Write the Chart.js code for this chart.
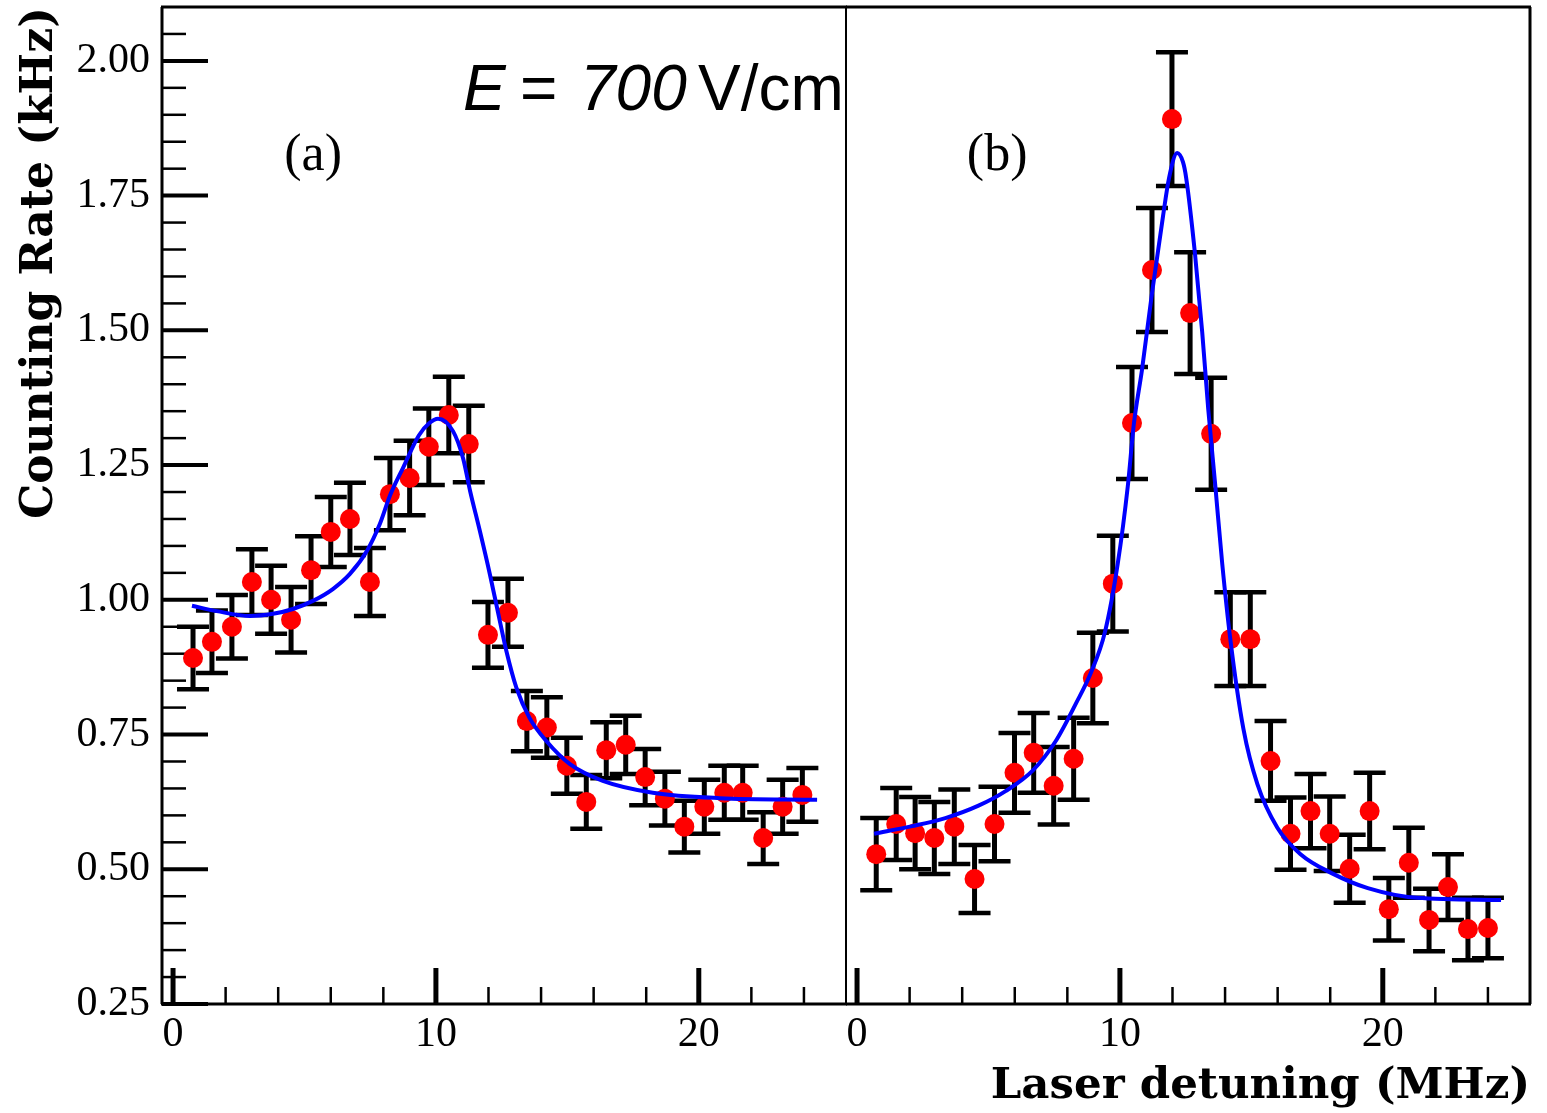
<!DOCTYPE html>
<html>
<head>
<meta charset="utf-8">
<title>Counting rate vs laser detuning</title>
<script src="https://cdn.jsdelivr.net/npm/chart.js@4.4.1/dist/chart.umd.min.js"></script>
<style>
  body { margin: 0; background: #fff; }
  #wrap { position: relative; width: 1547px; height: 1113px; }
  canvas { position: absolute; top: 0; }
</style>
</head>
<body>
<div id="wrap">
  <canvas id="panelA" width="848" height="1113" style="left:0px"></canvas>
  <canvas id="panelB" width="701" height="1113" style="left:846px"></canvas>
</div>
<script>
// axis ranges + ticks
const yMin = 0.25, yMax = 2.10;
const xMin = -0.42, xMax = 25.6;
const yMajorTicks = [0.25, 0.50, 0.75, 1.00, 1.25, 1.50, 1.75, 2.00];
const yMinorTicks = [0.30, 0.35, 0.40, 0.45, 0.55, 0.60, 0.65, 0.70, 0.80, 0.85, 0.90, 0.95,
  1.05, 1.10, 1.15, 1.20, 1.30, 1.35, 1.40, 1.45, 1.55, 1.60, 1.65, 1.70, 1.80, 1.85, 1.90, 1.95, 2.05];
const xMajorTicks = [0, 10, 20];
const xMinorTicks = [2, 4, 6, 8, 12, 14, 16, 18, 22, 24];

// panel (a) measurements
const aX = [0.76, 1.48, 2.24, 3.00, 3.73, 4.49, 5.25, 6.00, 6.73, 7.49, 8.25, 9.00, 9.73, 10.49, 11.25, 11.98,
  12.74, 13.46, 14.22, 14.98, 15.72, 16.48, 17.22, 17.96, 18.71, 19.45, 20.21, 20.97, 21.67, 22.45, 23.19, 23.94];
const aY = [0.892, 0.922, 0.950, 1.033, 1.000, 0.963, 1.055, 1.126, 1.150, 1.033, 1.196, 1.226, 1.284, 1.343, 1.289, 0.935,
  0.976, 0.775, 0.763, 0.692, 0.625, 0.721, 0.731, 0.671, 0.631, 0.579, 0.616, 0.642, 0.642, 0.558, 0.616, 0.638];
const aErr = [0.058, 0.058, 0.059, 0.061, 0.063, 0.061, 0.063, 0.065, 0.067, 0.063, 0.067, 0.069, 0.071, 0.071, 0.071, 0.061,
  0.063, 0.056, 0.056, 0.052, 0.050, 0.052, 0.054, 0.052, 0.050, 0.048, 0.050, 0.050, 0.050, 0.048, 0.050, 0.050];
// fit curve (a)
const aFitX = [0.72, 1.67, 2.93, 3.80, 4.56, 5.32, 6.08, 6.73, 7.38, 7.87, 8.25, 8.75, 9.35, 9.75, 10.08, 10.65, 11.03,
  11.30, 11.67, 12.05, 12.43, 12.68, 13.06, 13.56, 14.20, 15.10, 16.35, 18.25, 20.80, 24.50];
const aFitY = [0.989, 0.979, 0.970, 0.974, 0.983, 0.998, 1.020, 1.048, 1.091, 1.141, 1.193, 1.245, 1.305, 1.328, 1.336, 1.313, 1.263,
  1.202, 1.128, 1.048, 0.961, 0.905, 0.837, 0.781, 0.738, 0.695, 0.664, 0.642, 0.632, 0.629];

// panel (b) measurements
const bX = [0.73, 1.49, 2.21, 2.94, 3.70, 4.47, 5.23, 5.99, 6.72, 7.48, 8.24, 8.97, 9.73, 10.46, 11.22, 11.98,
  12.67, 13.47, 14.20, 14.96, 15.73, 16.49, 17.25, 17.98, 18.74, 19.50, 20.23, 20.99, 21.76, 22.48, 23.24, 24.00];
const bY = [0.528, 0.584, 0.567, 0.558, 0.579, 0.482, 0.584, 0.679, 0.716, 0.655, 0.705, 0.855, 1.030, 1.328, 1.612, 1.892,
  1.532, 1.308, 0.927, 0.927, 0.701, 0.566, 0.608, 0.566, 0.501, 0.608, 0.426, 0.512, 0.406, 0.467, 0.389, 0.391];
const bErr = [0.067, 0.067, 0.067, 0.067, 0.069, 0.063, 0.069, 0.074, 0.074, 0.072, 0.076, 0.084, 0.089, 0.104, 0.115, 0.124,
  0.113, 0.104, 0.087, 0.087, 0.074, 0.067, 0.069, 0.069, 0.063, 0.071, 0.058, 0.065, 0.058, 0.061, 0.058, 0.056];
// fit curve (b)
const bFitX = [0.65, 2.10, 3.36, 4.62, 5.65, 6.68, 7.56, 8.32, 8.90, 9.43, 9.92, 10.30, 10.53, 10.84, 11.22, 11.64, 11.87,
  12.18, 12.40, 12.52, 12.86, 13.13, 13.36, 13.63, 13.89, 14.20, 14.70, 15.23, 15.99, 16.87, 18.13, 19.43, 21.30, 24.50];
const bFitY = [0.566, 0.580, 0.595, 0.618, 0.645, 0.683, 0.738, 0.807, 0.865, 0.940, 1.068, 1.211, 1.326, 1.427, 1.569, 1.712, 1.783,
  1.829, 1.812, 1.783, 1.640, 1.497, 1.354, 1.211, 1.068, 0.927, 0.760, 0.658, 0.577, 0.528, 0.491, 0.465, 0.447, 0.443];

const serif = '"Liberation Serif", "Times New Roman", serif';
const titleFont = '"DejaVu Serif", serif';

function toPoints(xs, ys) {
  return xs.map((x, i) => ({ x: x, y: ys[i] }));
}

function line(ctx, x1, y1, x2, y2, w) {
  ctx.lineWidth = w;
  ctx.beginPath();
  ctx.moveTo(x1, y1);
  ctx.lineTo(x2, y2);
  ctx.stroke();
}

// stop chart.js from adding extra room for the edge labels
function noPadding(s) {
  s.paddingLeft = 0;
  s.paddingRight = 0;
  s.paddingTop = 0;
  s.paddingBottom = 0;
}

// frame, tick marks, error bars and labels for one panel
const decorPlugin = {
  id: 'decor',
  beforeDatasetsDraw(chart, args, opts) {
    const ctx = chart.ctx;
    const a = chart.chartArea;
    const xs = chart.scales.x, ys = chart.scales.y;
    ctx.save();
    ctx.strokeStyle = '#000';
    ctx.lineCap = 'butt';

    // error bars
    opts.errX.forEach((x, i) => {
      const px = xs.getPixelForValue(x);
      const top = ys.getPixelForValue(opts.errY[i] + opts.err[i]);
      const bot = ys.getPixelForValue(opts.errY[i] - opts.err[i]);
      line(ctx, px, top, px, bot, 5);
      line(ctx, px - 16, top, px + 16, top, 4.5);
      line(ctx, px - 16, bot, px + 16, bot, 4.5);
    });

    // x tick marks
    xMajorTicks.forEach(v => {
      const px = xs.getPixelForValue(v);
      line(ctx, px, a.bottom, px, a.bottom - 36, 5);
    });
    xMinorTicks.forEach(v => {
      const px = xs.getPixelForValue(v);
      line(ctx, px, a.bottom, px, a.bottom - 17, 2.5);
    });

    // y tick marks (left panel only)
    if (opts.yTicks) {
      yMajorTicks.forEach(v => {
        const py = ys.getPixelForValue(v);
        line(ctx, a.left, py, a.left + 46, py, 4);
      });
      yMinorTicks.forEach(v => {
        const py = ys.getPixelForValue(v);
        line(ctx, a.left, py, a.left + 24, py, 2.5);
      });
    }

    // frame
    const s = opts.sides;
    if (s.includes('left')) line(ctx, a.left, a.top, a.left, a.bottom, 3);
    if (s.includes('top')) line(ctx, a.left - 1, a.top, a.right + 1, a.top, 3);
    if (s.includes('bottom')) line(ctx, a.left - 1, a.bottom, a.right + 1, a.bottom, 3);
    if (s.includes('right')) line(ctx, a.right, a.top, a.right, a.bottom, opts.rightWidth);

    // panel label
    ctx.fillStyle = '#000';
    ctx.font = '52px ' + serif;
    ctx.textAlign = 'center';
    ctx.textBaseline = 'middle';
    ctx.fillText(opts.label, xs.getPixelForValue(5.33), a.top + 149);

    if (opts.field) {
      ctx.textAlign = 'left';
      ctx.textBaseline = 'alphabetic';
      const base = a.top + 103;
      ctx.font = 'italic 64px "Liberation Sans", Arial, sans-serif';
      ctx.fillText('E', a.left + 301, base);
      ctx.fillText('700', a.left + 418, base);
      ctx.font = '64px "Liberation Sans", Arial, sans-serif';
      ctx.fillText('=', a.left + 358, base);
      ctx.fillText('V/cm', a.left + 536, base);
    }
    ctx.restore();
  }
};

function makePanel(id, cfg) {
  const scales = {
    x: {
      type: 'linear', min: xMin, max: xMax,
      grid: { display: false, drawTicks: false },
      border: { display: false },
      afterBuildTicks: s => { s.ticks = xMajorTicks.map(v => ({ value: v })); },
      afterFit: s => { s.height = 109; noPadding(s); },
      ticks: { font: { family: serif, size: 42 }, color: '#000', padding: 6, maxRotation: 0, autoSkip: false,
        callback: v => String(v) },
      title: cfg.xTitle ? {
        display: true, text: cfg.xTitle, align: 'end', color: '#000',
        font: { family: titleFont, size: 43.5, weight: 'bold' }, padding: { top: 0, bottom: 0 }
      } : { display: false }
    },
    y: {
      type: 'linear', min: yMin, max: yMax, display: cfg.yAxis,
      grid: { display: false, drawTicks: false },
      border: { display: false },
      afterBuildTicks: s => { s.ticks = yMajorTicks.map(v => ({ value: v })); },
      afterFit: s => { if (cfg.yAxis) s.width = 162; noPadding(s); },
      ticks: { font: { family: serif, size: 42 }, color: '#000', padding: 12, autoSkip: false,
        callback: v => v.toFixed(2) },
      title: {
        display: cfg.yAxis, text: 'Counting Rate (kHz)', align: 'end', color: '#000',
        font: { family: titleFont, size: 44, weight: 'bold' }, padding: { top: 14, bottom: 0 }
      }
    }
  };

  return new Chart(document.getElementById(id), {
    type: 'scatter',
    data: {
      datasets: [
        {
          data: toPoints(cfg.fitX, cfg.fitY), showLine: true, borderColor: '#0000ff', borderWidth: 4,
          pointRadius: 0, cubicInterpolationMode: 'monotone', fill: false
        },
        {
          data: toPoints(cfg.x, cfg.y), pointRadius: 10, pointBackgroundColor: '#ff0000',
          pointBorderWidth: 0, showLine: false
        }
      ]
    },
    options: {
      responsive: false, animation: false, devicePixelRatio: 1,
      layout: { autoPadding: false, padding: { top: 7, left: 0, right: cfg.padRight, bottom: 0 } },
      plugins: {
        legend: { display: false },
        tooltip: { enabled: false },
        decor: {
          errX: cfg.x, errY: cfg.y, err: cfg.err, yTicks: cfg.yAxis, sides: cfg.sides,
          rightWidth: cfg.rightWidth, label: cfg.label, field: cfg.field
        }
      },
      scales: scales
    },
    plugins: [decorPlugin]
  });
}

makePanel('panelA', {
  x: aX, y: aY, err: aErr, fitX: aFitX, fitY: aFitY, yAxis: true, padRight: 2,
  sides: ['left', 'top', 'bottom', 'right'], rightWidth: 2, label: '(a)', field: true
});
makePanel('panelB', {
  x: bX, y: bY, err: bErr, fitX: bFitX, fitY: bFitY, yAxis: false, padRight: 17,
  sides: ['top', 'bottom', 'right'], rightWidth: 3, label: '(b)', field: false,
  xTitle: 'Laser detuning (MHz)'
});
</script>
</body>
</html>
